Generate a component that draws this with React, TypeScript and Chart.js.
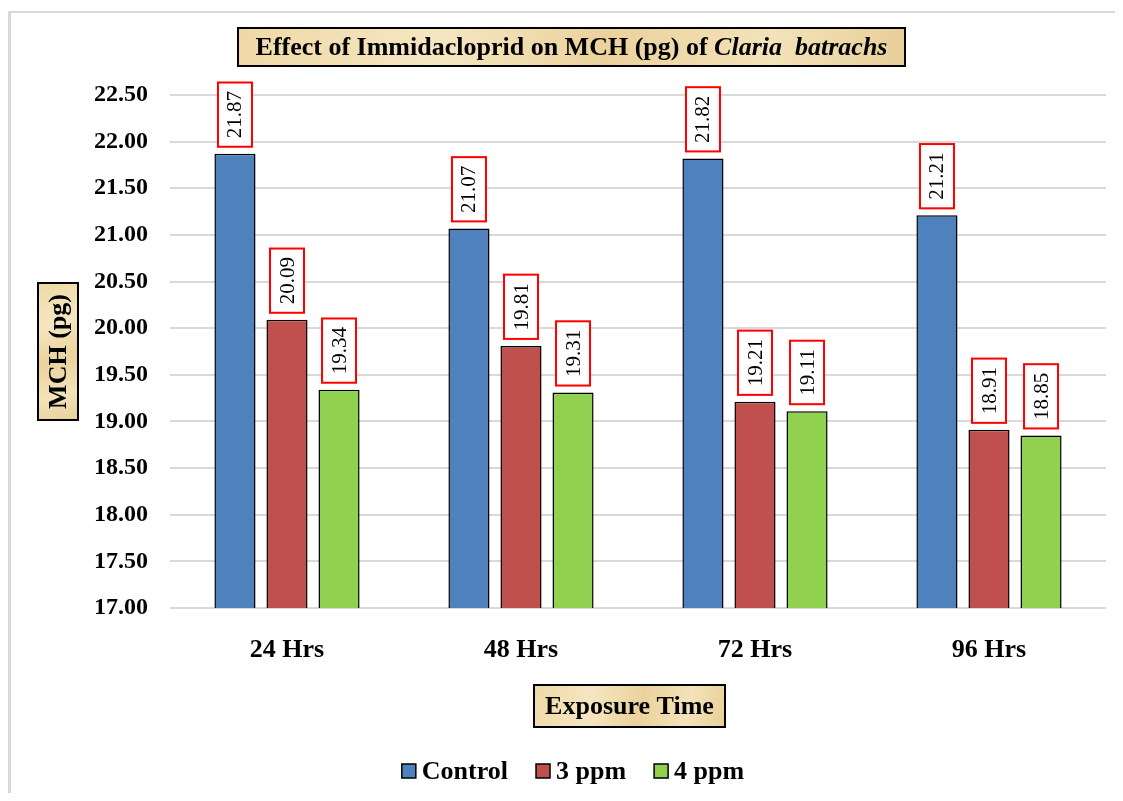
import React, { useEffect, useRef } from "react";
import { Chart, registerables } from "chart.js";

Chart.register(...registerables);

// Exposure periods and the MCH (pg) measured for each group
const categories = ["24 Hrs", "48 Hrs", "72 Hrs", "96 Hrs"];
const seriesNames = ["Control", "3 ppm", "4 ppm"];
const controlValues = [21.87, 21.07, 21.82, 21.21];
const ppm3Values = [20.09, 19.81, 19.21, 18.91];
const ppm4Values = [19.34, 19.31, 19.11, 18.85];
const seriesColors = ["#4F81BD", "#C0504D", "#92D050"];

const yMin = 17;
const yMax = 22.5;
const yStep = 0.5;

const titleMain = "Effect of Immidacloprid on MCH (pg) of ";
const titleSpecies = "Claria  batrachs";
const yTitle = "MCH (pg)";
const xTitle = "Exposure Time";

const SERIF = "'Times New Roman', 'Liberation Serif', serif";

function parchment(ctx: CanvasRenderingContext2D, x: number, y: number, w: number, h: number) {
  const g = ctx.createLinearGradient(x, y, x + w, y + h);
  g.addColorStop(0, "#EFD9A6");
  g.addColorStop(0.3, "#F5E6C2");
  g.addColorStop(0.55, "#EBD29C");
  g.addColorStop(0.8, "#F3E2BA");
  g.addColorStop(1, "#E8CF98");
  ctx.fillStyle = g;
  ctx.fillRect(x, y, w, h);
  ctx.lineWidth = 2;
  ctx.strokeStyle = "#000";
  ctx.strokeRect(x, y, w, h);
}

const backgroundPlugin = {
  id: "pageBackground",
  beforeDraw(chart: Chart) {
    const { ctx, width, height } = chart;
    ctx.save();
    ctx.fillStyle = "#fff";
    ctx.fillRect(0, 0, width, height);
    // outer frame (left and top edges)
    ctx.fillStyle = "#D9D9D9";
    ctx.fillRect(0, 3, 3, height - 3);
    ctx.fillRect(0, 3, width, 2);
    ctx.restore();
  },
};

const valueLabelPlugin = {
  id: "valueLabels",
  afterDatasetsDraw(chart: Chart) {
    const { ctx } = chart;
    ctx.save();
    ctx.font = `21px ${SERIF}`;
    chart.data.datasets.forEach((ds, di) => {
      const meta = chart.getDatasetMeta(di);
      meta.data.forEach((el: any, i: number) => {
        const v = ds.data[i] as number;
        const text = v.toFixed(2);
        const tw = ctx.measureText(text).width;
        const boxW = 34;
        const boxH = tw + 17;
        const bottom = el.y - 7;
        const cx = el.x;
        ctx.fillStyle = "#fff";
        ctx.fillRect(cx - boxW / 2, bottom - boxH, boxW, boxH);
        ctx.strokeStyle = "#FF0000";
        ctx.lineWidth = 2;
        ctx.strokeRect(cx - boxW / 2, bottom - boxH, boxW, boxH);
        ctx.save();
        ctx.translate(cx, bottom - boxH / 2);
        ctx.rotate(-Math.PI / 2);
        ctx.fillStyle = "#000";
        ctx.textAlign = "center";
        ctx.textBaseline = "middle";
        ctx.fillText(text, 0, 1);
        ctx.restore();
      });
    });
    ctx.restore();
  },
};

const decorationsPlugin = {
  id: "decorations",
  afterDraw(chart: Chart) {
    const { ctx } = chart;
    ctx.save();

    // chart title
    parchment(ctx, 230, 20, 667, 38);
    ctx.fillStyle = "#000";
    ctx.textBaseline = "middle";
    ctx.font = `bold 26px ${SERIF}`;
    const w1 = ctx.measureText(titleMain).width;
    ctx.font = `italic bold 26px ${SERIF}`;
    const w2 = ctx.measureText(titleSpecies).width;
    const tx = 563.5 - (w1 + w2) / 2;
    ctx.textAlign = "left";
    ctx.font = `bold 26px ${SERIF}`;
    ctx.fillText(titleMain, tx, 40);
    ctx.font = `italic bold 26px ${SERIF}`;
    ctx.fillText(titleSpecies, tx + w1, 40);

    // y axis title
    parchment(ctx, 30, 275, 40, 137);
    ctx.save();
    ctx.translate(51, 343.5);
    ctx.rotate(-Math.PI / 2);
    ctx.textAlign = "center";
    ctx.font = `bold 26px ${SERIF}`;
    ctx.fillStyle = "#000";
    ctx.fillText(yTitle, 0, 0);
    ctx.restore();

    // x axis title
    parchment(ctx, 526, 677, 191, 42);
    ctx.textAlign = "center";
    ctx.font = `bold 26px ${SERIF}`;
    ctx.fillStyle = "#000";
    ctx.fillText(xTitle, 621.5, 699);

    // legend
    ctx.font = `bold 26px ${SERIF}`;
    const sq = 14;
    const gapText = 6;
    const gapItem = 28;
    const widths = seriesNames.map((n) => sq + gapText + ctx.measureText(n).width);
    const total = widths.reduce((a, b) => a + b, 0) + gapItem * (seriesNames.length - 1);
    let lx = 565 - total / 2;
    const ly = 763;
    seriesNames.forEach((n, i) => {
      ctx.fillStyle = seriesColors[i];
      ctx.fillRect(lx, ly - sq / 2, sq, sq);
      ctx.strokeStyle = "#000";
      ctx.lineWidth = 1.5;
      ctx.strokeRect(lx, ly - sq / 2, sq, sq);
      ctx.fillStyle = "#000";
      ctx.textAlign = "left";
      ctx.fillText(n, lx + sq + gapText, ly + 1);
      lx += widths[i] + gapItem;
    });

    ctx.restore();
  },
};

export default function App() {
  const canvasRef = useRef<HTMLCanvasElement | null>(null);

  useEffect(() => {
    const canvas = canvasRef.current;
    if (!canvas) return;
    const values = [controlValues, ppm3Values, ppm4Values];
    const chart = new Chart(canvas, {
      type: "bar",
      data: {
        labels: categories,
        datasets: seriesNames.map((name, i) => ({
          label: name,
          data: values[i],
          backgroundColor: seriesColors[i],
          borderColor: "#000",
          borderWidth: 1.5,
          categoryPercentage: 0.667,
          barPercentage: 0.79,
        })),
      },
      options: {
        responsive: false,
        animation: false,
        devicePixelRatio: 1,
        layout: { padding: { left: 0, right: 9, top: 87, bottom: 0 } },
        plugins: {
          legend: { display: false },
          title: { display: false },
          tooltip: { enabled: false },
        },
        scales: {
          x: {
            grid: { display: false, drawTicks: false },
            border: { display: false },
            ticks: {
              color: "#000",
              padding: 27,
              font: { family: SERIF, size: 26, weight: "bold" },
            },
            afterFit: (s: any) => {
              s.height = 185;
            },
          },
          y: {
            min: yMin,
            max: yMax,
            grid: { color: "#D9D9D9", lineWidth: 2, drawTicks: false },
            border: { display: false },
            ticks: {
              stepSize: yStep,
              color: "#000",
              padding: 22,
              font: { family: SERIF, size: 24, weight: "bold" },
              callback: (v: any) => Number(v).toFixed(2),
            },
            afterFit: (s: any) => {
              s.width = 162;
            },
          },
        },
      },
      plugins: [backgroundPlugin, valueLabelPlugin, decorationsPlugin],
    });
    return () => chart.destroy();
  }, []);

  return (
    <div style={{ width: 1107, height: 785 }}>
      <canvas ref={canvasRef} width={1107} height={785} style={{ display: "block" }} />
    </div>
  );
}
